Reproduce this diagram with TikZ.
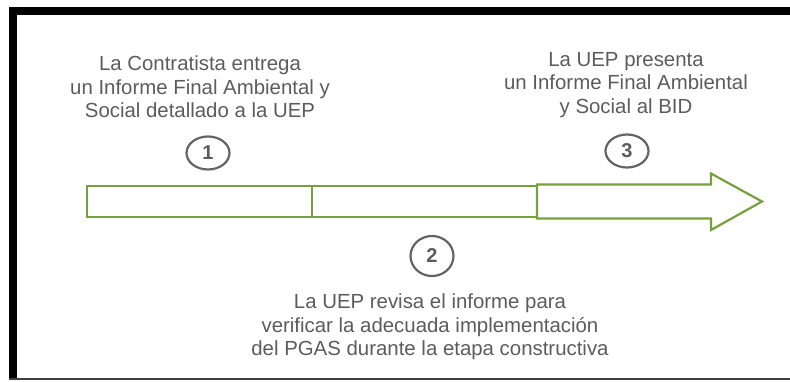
\documentclass[tikz,border=0pt]{standalone}
\usepackage{fontspec}
\setmainfont{Liberation Sans}
\usetikzlibrary{shapes.geometric}

\definecolor{leafgreen}{RGB}{120,160,60}
\definecolor{inkgray}{RGB}{92,92,92}

\begin{document}
\begin{tikzpicture}[x=1pt, y=-1pt, line join=miter,
    stage/.style={draw=leafgreen, line width=2.2pt},
    stepmark/.style={draw=inkgray!95, line width=2.2pt, ellipse, inner sep=0pt,
      minimum width=43pt, minimum height=33pt, text=inkgray,
      font=\fontsize{20}{20}\selectfont\bfseries},
    note/.style={align=center, text=inkgray, inner sep=0pt,
      font=\fontsize{20.4}{23.5}\selectfont}]
  \useasboundingbox (0,0) rectangle (790,381);

  % Frame
  \fill[black] (9,7) rectangle (790,15);
  \fill[black] (9,7) rectangle (16.5,380);
  \fill[black!75] (9,377.5) rectangle (790,380);

  % Timeline bar
  \draw[stage] (87,186) rectangle (312,217);
  \draw[stage] (312,186) rectangle (537,217);
  \draw[stage] (537,184.5) -- (711,184.5) -- (711,173.5) -- (762,201.5)
    -- (711,230) -- (711,218.5) -- (537,218.5) -- cycle;

  % Step numbers
  \node[stepmark] (num1) at (208,153) {1};
  \node[stepmark, minimum height=40pt] (num2) at (432,256) {2};
  \node[stepmark] (num3) at (627,151) {3};

  % Step texts
  \node[note] (txt1) at (200,87) {La Contratista entrega\\un Informe Final Ambiental y\\Social detallado a la UEP};
  \node[note] (txt2) at (430,327) {La UEP revisa el informe para\\verificar la adecuada implementación\\del PGAS durante la etapa constructiva};
  \node[note] (txt3) at (626,85) {La UEP presenta\\un Informe Final Ambiental\\y Social al BID};
\end{tikzpicture}
\end{document}
